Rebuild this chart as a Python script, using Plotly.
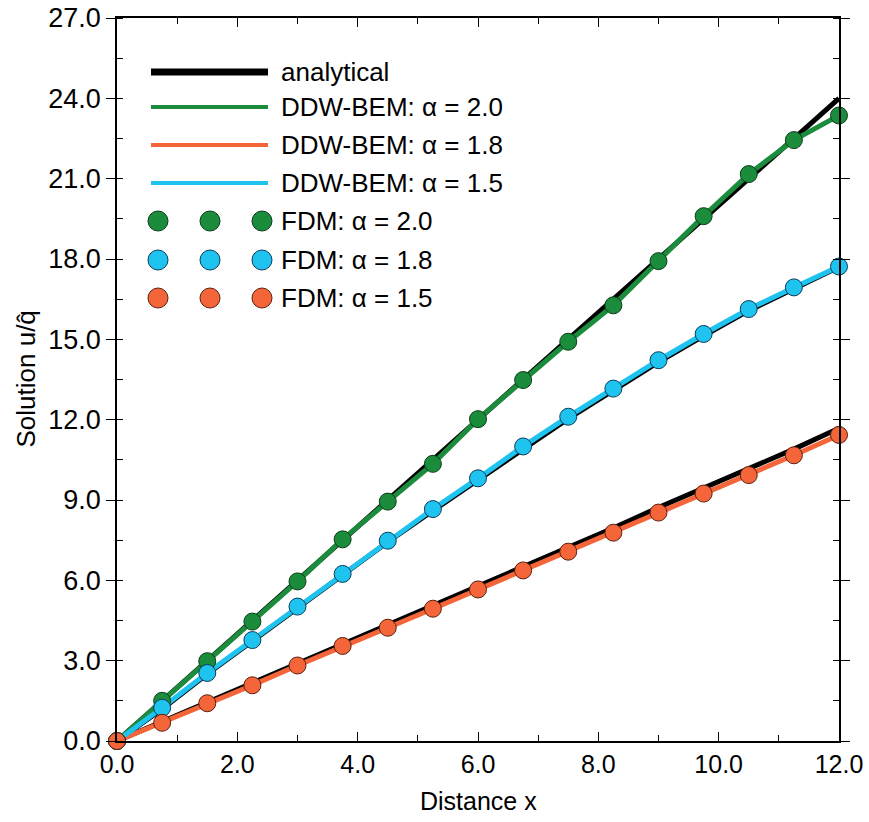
import plotly.graph_objects as go

# ---------------- data ----------------
x_vals = [0, 0.75, 1.5, 2.25, 3.0, 3.75, 4.5, 5.25, 6.0, 6.75, 7.5, 8.25, 9.0, 9.75, 10.5, 11.25, 12.0]

analytical_a20 = [0, 1.5, 3.0, 4.5, 6.0, 7.5, 9.0, 10.5, 12.0, 13.5, 15.0, 16.5, 18.0, 19.5, 21.0, 22.5, 24.0]
analytical_a18 = [0, 1.20, 2.50, 3.73, 4.97, 6.20, 7.43, 8.60, 9.75, 10.93, 12.04, 13.09, 14.15, 15.13, 16.07, 16.89, 17.70]
analytical_a15 = [0, 0.72, 1.46, 2.16, 2.90, 3.63, 4.33, 5.05, 5.78, 6.50, 7.22, 7.95, 8.72, 9.44, 10.15, 10.90, 11.68]

bem_a20 = [0, 1.50, 2.98, 4.46, 5.96, 7.53, 8.94, 10.35, 12.02, 13.48, 14.91, 16.27, 17.92, 19.60, 21.17, 22.44, 23.36]
bem_lower = [0, 0.68, 1.41, 2.08, 2.82, 3.55, 4.23, 4.94, 5.66, 6.37, 7.07, 7.78, 8.53, 9.24, 9.93, 10.67, 11.43]
bem_middle = [0, 1.24, 2.54, 3.77, 5.02, 6.24, 7.48, 8.66, 9.81, 11.00, 12.11, 13.16, 14.22, 15.20, 16.13, 16.94, 17.72]

fdm_a20 = [0, 1.50, 2.98, 4.46, 5.96, 7.53, 8.94, 10.35, 12.02, 13.48, 14.91, 16.27, 17.92, 19.60, 21.17, 22.44, 23.36]
fdm_a18 = [0, 1.24, 2.54, 3.77, 5.02, 6.24, 7.48, 8.66, 9.81, 11.00, 12.11, 13.16, 14.22, 15.20, 16.13, 16.94, 17.72]
fdm_a15 = [0, 0.68, 1.41, 2.08, 2.82, 3.55, 4.23, 4.94, 5.66, 6.37, 7.07, 7.78, 8.53, 9.24, 9.93, 10.67, 11.43]

legend_labels = ["analytical", "DDW-BEM: α = 2.0", "DDW-BEM: α = 1.8", "DDW-BEM: α = 1.5",
                 "FDM: α = 2.0", "FDM: α = 1.8", "FDM: α = 1.5"]

x_ticks = [0, 2, 4, 6, 8, 10, 12]
y_ticks = [0, 3, 6, 9, 12, 15, 18, 21, 24, 27]

x_title = "Distance x"
y_title = "Solution u/q\u0302"

# ---------------- style ----------------
GREEN = "#1A8C3C"
CYAN = "#1FC3F0"
ORANGE = "#F4663A"
GREEN_EDGE = "#0B3D19"
CYAN_EDGE = "#0A3C5A"
ORANGE_EDGE = "#5A2010"

W, H = 869, 822
L, R, T, B = 117, 30, 18, 81
FONT = "Arial, Liberation Sans, sans-serif"

fig = go.Figure()

for yv in [analytical_a20, analytical_a18, analytical_a15]:
    fig.add_trace(go.Scatter(x=x_vals, y=yv, mode="lines",
                             line=dict(color="black", width=5), showlegend=False,
                             cliponaxis=False))

fig.add_trace(go.Scatter(x=x_vals, y=bem_a20, mode="lines",
                         line=dict(color=GREEN, width=5), showlegend=False, cliponaxis=False))
fig.add_trace(go.Scatter(x=x_vals, y=bem_lower, mode="lines",
                         line=dict(color=ORANGE, width=5), showlegend=False, cliponaxis=False))
fig.add_trace(go.Scatter(x=x_vals, y=bem_middle, mode="lines",
                         line=dict(color=CYAN, width=5), showlegend=False, cliponaxis=False))

for yv, c, e in [(fdm_a20, GREEN, GREEN_EDGE), (fdm_a18, CYAN, CYAN_EDGE), (fdm_a15, ORANGE, ORANGE_EDGE)]:
    fig.add_trace(go.Scatter(x=x_vals, y=yv, mode="markers",
                             marker=dict(color=c, size=17, line=dict(color=e, width=1)),
                             showlegend=False, cliponaxis=False))

# ---------------- custom legend (paper coords from pixel positions) ----------------
pw, ph = W - L - R, H - T - B

def px2x(px):
    return (px - L) / pw

def py2y(py):
    return (H - B - py) / ph

shapes = []
annotations = []
row_y = [72, 107, 145, 183, 221, 260, 298]
line_specs = [("black", 7), (GREEN, 4), (ORANGE, 4), (CYAN, 4)]
for i, (c, w) in enumerate(line_specs):
    shapes.append(dict(type="line", xref="paper", yref="paper",
                       x0=px2x(151), x1=px2x(268), y0=py2y(row_y[i]), y1=py2y(row_y[i]),
                       line=dict(color=c, width=w)))
marker_specs = [(GREEN, GREEN_EDGE), (CYAN, CYAN_EDGE), (ORANGE, ORANGE_EDGE)]
for j, (c, e) in enumerate(marker_specs):
    yy = py2y(row_y[4 + j])
    for cx in [158, 210, 262]:
        shapes.append(dict(type="circle", xref="paper", yref="paper",
                           xsizemode="pixel", ysizemode="pixel",
                           xanchor=px2x(cx), yanchor=yy,
                           x0=-10, x1=10, y0=-10, y1=10,
                           fillcolor=c, line=dict(color=e, width=1)))
for i, lab in enumerate(legend_labels):
    annotations.append(dict(xref="paper", yref="paper", x=px2x(279), y=py2y(row_y[i]),
                            text=lab, showarrow=False, xanchor="left", yanchor="middle",
                            font=dict(family=FONT, size=26, color="black")))

# axis titles placed as annotations for exact positioning
annotations.append(dict(xref="paper", yref="paper", x=0.5, y=py2y(801),
                        text=x_title, showarrow=False, xanchor="center", yanchor="middle",
                        font=dict(family=FONT, size=25, color="black")))
annotations.append(dict(xref="paper", yref="paper", x=px2x(25), y=0.5,
                        text=y_title, showarrow=False, xanchor="center", yanchor="middle",
                        textangle=-90,
                        font=dict(family=FONT, size=26, color="black")))

fig.update_layout(
    width=W, height=H,
    margin=dict(l=L, r=R, t=T, b=B),
    paper_bgcolor="white", plot_bgcolor="white",
    showlegend=False,
    shapes=shapes, annotations=annotations,
    xaxis=dict(range=[0, 12], tickvals=x_ticks, ticktext=[f"{v:.1f}" for v in x_ticks],
               automargin=False,
               ticks="inside", ticklen=9, tickwidth=1.2, tickcolor="black",
               minor=dict(dtick=1, ticks="inside", ticklen=6, tickcolor="black", tickwidth=1),
               showline=True, linecolor="black", linewidth=1.5, mirror="allticks",
               showgrid=False, zeroline=False,
               tickfont=dict(family=FONT, size=25, color="black")),
    yaxis=dict(range=[0, 27], tickvals=y_ticks, ticktext=[f"{v:.1f}" for v in y_ticks],
               automargin=False,
               ticks="outside", ticklen=9, tickwidth=1.2, tickcolor="black",
               minor=dict(dtick=1.5, ticks="inside", ticklen=6, tickcolor="black", tickwidth=1),
               showline=True, linecolor="black", linewidth=1.5, mirror="allticks",
               showgrid=False, zeroline=False,
               tickfont=dict(family=FONT, size=27, color="black")),
)

fig.write_html("out.html")
